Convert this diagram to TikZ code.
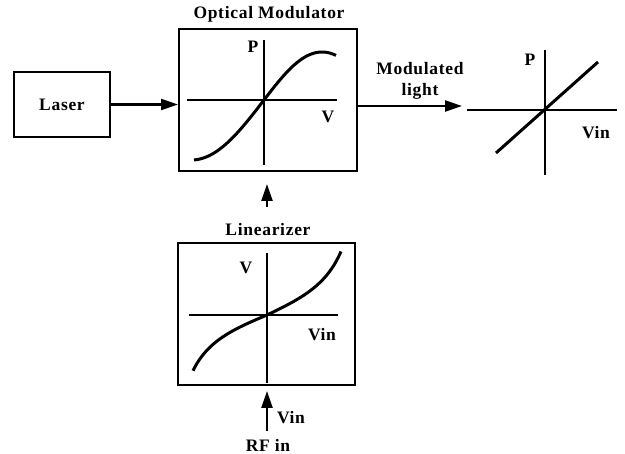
\documentclass[tikz,border=0pt]{standalone}
\usepackage{fontspec}
\setmainfont[LetterSpace=4]{Liberation Serif}
\usetikzlibrary{arrows.meta}
\begin{document}
\begin{tikzpicture}[x=1pt,y=-1pt,
  box/.style={draw, line width=2pt, inner sep=0pt},
  lbl/.style={font=\fontsize{17.5}{21}\selectfont\bfseries, inner sep=0pt},
  axis/.style={line width=2.6pt},
  curve/.style={line width=3pt},
  arr/.style={line width=2.4pt, -{Triangle[length=17pt,width=11pt]}}]
\useasboundingbox (0,0) rectangle (625,454);

% Laser
\node[box, lbl, minimum width=96pt, minimum height=65pt] (laser) at (62,104.5) {Laser};

% Optical modulator
\node[lbl] (modtitle) at (269,14) {Optical Modulator};
\node[box, minimum width=178pt, minimum height=142pt] (mod) at (268,100) {};
\draw[axis] (264,40) -- (264,165);
\draw[axis] (187,100) -- (337,100);
\node[lbl] (mP) at (253,47) {P};
\node[lbl] (mV) at (328,117) {V};
\draw[curve] plot[domain=-70:0, samples=40] ({264+\x},{100-60*sin(\x*90/72.5)})
  -- plot[domain=0:72, samples=40] ({264+\x},{100-48*sin(\x*90/58)});

\draw[arr] (laser.east) -- (laser.east -| mod.west);

% Modulated light
\node[lbl, align=center] (ml) at (420,81) {Modulated\\light};
\coordinate (mlend) at (462,106);
\draw[arr] (mlend -| mod.east) -- (mlend);

% Output plot
\draw[axis] (545,50) -- (545,175);
\draw[axis] (467,110) -- (617,110);
\draw[curve] (496,153) -- (598,62);
\node[lbl] (oP) at (530,60) {P};
\node[lbl] (oVin) at (596,133) {Vin};

% Linearizer
\node[lbl] (lin) at (268,230) {Linearizer};
\node[box, minimum width=177pt, minimum height=142pt] (linbox) at (266.5,314) {};
\draw[axis] (267,253) -- (267,383);
\draw[axis] (189,315) -- (338,315);
\node[lbl] (lV) at (246,268) {V};
\node[lbl] (lVin) at (322,335) {Vin};
\draw[curve] plot[domain=-74:0, samples=40] ({267+\x},{315-28.5*tan(0.85*\x)})
  -- plot[domain=0:74, samples=40] ({267+\x},{315-32.5*tan(0.85*\x)});

\coordinate (a1) at (267,207);
\draw[arr, shorten >=12pt] (a1) -- (a1 |- mod.south);

% RF in
\node[lbl] (rfin) at (268,445) {RF in};
\node[lbl] (rVin) at (291,418) {Vin};
\coordinate (a2) at (267,431);
\draw[arr, shorten >=5pt] (a2) -- (a2 |- linbox.south);
\end{tikzpicture}
\end{document}
